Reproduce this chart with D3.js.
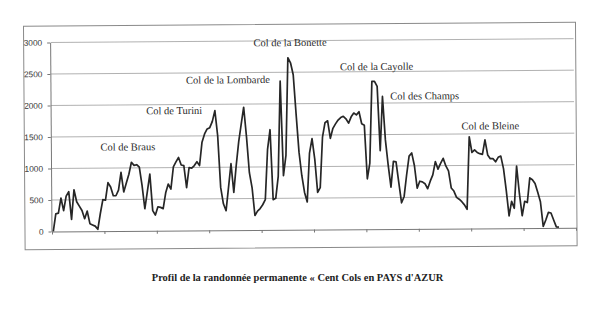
<!DOCTYPE html>
<html><head><meta charset="utf-8">
<script src="https://cdn.jsdelivr.net/npm/d3@7"></script>
<style>html,body{margin:0;padding:0;background:#fff;} svg{display:block;}</style>
</head><body>
<svg id="c" width="600" height="312"></svg>
<script>
// Elevation profile (m), one value per point along the route
const elevations = [
  0, 280, 290, 530, 330, 560, 630, 190, 660, 470,
  400, 330, 200, 320, 120, 100, 80, 30, 280, 500,
  490, 770, 700, 560, 560, 650, 930, 620, 760, 900,
  1090, 1040, 1050, 1010, 720, 350, 620, 900, 320, 250,
  380, 370, 350, 600, 740, 660, 1010, 1090, 1160, 1040,
  1030, 680, 1000, 990, 1030, 1090, 1030, 1400, 1530, 1610,
  1630, 1730, 1900, 1500, 680, 420, 310, 680, 1055, 600,
  1030, 1400, 1680, 1950, 1480, 910, 670, 230, 300, 340,
  400, 480, 1280, 1590, 480, 500, 850, 2360, 860, 1180,
  2730, 2650, 2460, 1830, 1230, 860, 590, 440, 1215, 1445,
  1115, 590, 665, 1465, 1695, 1725, 1445, 1605, 1675, 1735,
  1775, 1795, 1755, 1685, 1785, 1845, 1815, 1865, 1675, 1650,
  800, 1050, 2345, 2345, 2265, 1245, 2105, 1415, 1015, 665,
  1075, 1065, 735, 415, 515, 855, 1155, 1205, 1005, 645,
  755, 745, 715, 635, 755, 855, 1065, 945, 1035, 1115,
  995, 915, 645, 595, 495, 465, 425, 375, 305, 1455,
  1205, 1245, 1205, 1185, 1175, 1405, 1165, 1105, 1105, 1055,
  1125, 1145, 945, 595, 195, 425, 315, 985, 545, 195,
  425, 405, 795, 765, 705, 565, 415, 25, 125, 245,
  235, 125, 15, 10
];
const slotCount = 200;               // category slots on the x axis
const xTickEvery = 20;               // tick mark every 20 slots
const yTickValues = [0, 500, 1000, 1500, 2000, 2500, 3000];
const yTickLabels = ["0", "500", "1000", "1500", "2000", "2500", "3000"];
const passNames = ["Col de Braus", "Col de Turini", "Col de la Lombarde", "Col de la Bonette",
                   "Col de la Cayolle", "Col des Champs", "Col de Bleine"];
const chartTitle = "Profil de la randonnée permanente « Cent Cols en PAYS d'AZUR";

// ---- drawing ----
const svg = d3.select("#c");
const plotL = 52, plotR = 576, plotT = 42.5, plotB = 231.5;
const x = d3.scaleLinear().domain([0, slotCount]).range([plotL, plotR]);
const y = d3.scaleLinear().domain([0, 3000]).range([plotB, plotT]);

// slight scan tilt
const g = svg.append("g").attr("transform", `rotate(-0.42, 51, 231.5)`);

// frame
g.append("rect").attr("x", 25).attr("y", 26).attr("width", 552).attr("height", 223.5)
  .attr("fill", "none").attr("stroke", "#8a8a8a").attr("stroke-width", 1);

// gridlines
g.append("g").selectAll("line").data(yTickValues.filter(v => v > 0)).join("line")
  .attr("x1", plotL).attr("x2", plotR - 1)
  .attr("y1", d => y(d)).attr("y2", d => y(d))
  .attr("stroke", "#a8a8a8").attr("stroke-width", 0.9);

// y axis
const ya = g.append("g").attr("transform", `translate(${plotL - 0.5},0)`)
  .call(d3.axisLeft(y).tickValues(yTickValues).tickFormat((d, i) => yTickLabels[i])
    .tickSizeInner(3).tickSizeOuter(0).tickPadding(5));
ya.selectAll("path,line").attr("stroke", "#777");
ya.selectAll("text").attr("font-family", "Liberation Sans, Arial, sans-serif")
  .attr("font-size", 8.3).attr("fill", "#333");

// x axis
const xa = g.append("g").attr("transform", `translate(0,${plotB})`)
  .call(d3.axisBottom(x).tickValues(d3.range(0, slotCount + 1, xTickEvery)).tickFormat("")
    .tickSizeInner(3).tickSizeOuter(0));
xa.selectAll("path,line").attr("stroke", "#777");

// profile line
const line = d3.line().x((d, i) => x(i + 0.5)).y(d => y(d));
g.append("path").datum(elevations).attr("d", line)
  .attr("fill", "none").attr("stroke", "#262626").attr("stroke-width", 1.7)
  .attr("stroke-linejoin", "round");

// pass labels (anchored in slot / elevation space)
const passAnchors = [[18.7, 1278], [36.3, 1849], [51.6, 2331], [77.4, 2915],
                     [110.4, 2525], [129.5, 2054], [156.6, 1570]];
g.append("g").selectAll("text").data(passNames).join("text")
  .attr("x", (d, i) => x(passAnchors[i][0]))
  .attr("y", (d, i) => y(passAnchors[i][1]))
  .attr("font-family", "Liberation Serif, Times New Roman, serif")
  .attr("font-size", 10.5).attr("fill", "#2a2a2a")
  .text(d => d);

// title
svg.append("text").attr("x", 297.5).attr("y", 280.5).attr("text-anchor", "middle")
  .attr("font-family", "Liberation Serif, Times New Roman, serif")
  .attr("font-weight", "bold").attr("font-size", 10.45).attr("fill", "#222")
  .text(chartTitle);
</script>
</body></html>
